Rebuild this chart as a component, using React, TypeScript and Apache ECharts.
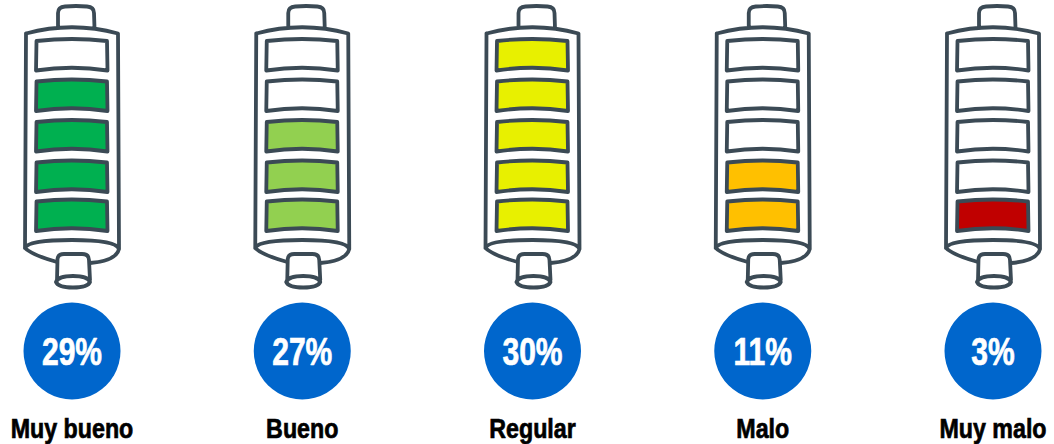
import React, { useEffect, useRef } from "react";
import * as echarts from "echarts";

const categories = ["Muy bueno", "Bueno", "Regular", "Malo", "Muy malo"];
const percentages = [29, 27, 30, 11, 3];
const filledCells = [4, 3, 5, 2, 1];
const seriesColors = ["#00B050", "#92D050", "#E8F000", "#FFC000", "#C00000"];

const INK = "#3B4A55";
const BLUE = "#0066CC";
const FONT = "'Liberation Sans', sans-serif";
const ANCHOR_Y = 351;
const cellTops = [40, 80.5, 121, 161.5, 200.5];

echarts.graphic.registerShape(
  "batteryCase",
  echarts.graphic.extendShape({
    shape: { x: 0, y: 0 },
    buildPath(ctx: any, s: any) {
      const X = (v: number) => s.x + v;
      const Y = (v: number) => s.y + v - ANCHOR_Y;
      // cap
      ctx.moveTo(X(-14), Y(27));
      ctx.lineTo(X(-14), Y(13));
      ctx.quadraticCurveTo(X(-14), Y(7), X(-7), Y(6.5));
      ctx.quadraticCurveTo(X(4), Y(5.5), X(15), Y(6.5));
      ctx.quadraticCurveTo(X(22), Y(7), X(22), Y(13));
      ctx.lineTo(X(22.5), Y(28));
      // body
      ctx.moveTo(X(-46), Y(33.5));
      ctx.quadraticCurveTo(X(0), Y(21), X(46), Y(33.5));
      ctx.lineTo(X(47), Y(249));
      ctx.moveTo(X(-46), Y(33.5));
      ctx.lineTo(X(-47), Y(248));
      // bottom ellipse
      ctx.moveTo(X(-47), Y(248));
      ctx.quadraticCurveTo(X(-44), Y(240), X(0), Y(240));
      ctx.quadraticCurveTo(X(44), Y(240), X(47), Y(249));
      ctx.quadraticCurveTo(X(44), Y(261), X(18), Y(263));
      ctx.moveTo(X(-47), Y(248));
      ctx.quadraticCurveTo(X(-40), Y(255), X(-15), Y(262));
    },
  })
);

echarts.graphic.registerShape(
  "batteryNozzle",
  echarts.graphic.extendShape({
    shape: { x: 0, y: 0 },
    buildPath(ctx: any, s: any) {
      const X = (v: number) => s.x + v;
      const Y = (v: number) => s.y + v - ANCHOR_Y;
      ctx.moveTo(X(-15), Y(280));
      ctx.lineTo(X(-14.5), Y(259));
      ctx.quadraticCurveTo(X(-14), Y(254), X(-8), Y(254));
      ctx.lineTo(X(10), Y(254));
      ctx.quadraticCurveTo(X(17), Y(254), X(17), Y(260));
      ctx.lineTo(X(18), Y(280));
      ctx.moveTo(X(-16), Y(282));
      ctx.quadraticCurveTo(X(-14), Y(276), X(1), Y(276));
      ctx.quadraticCurveTo(X(16), Y(276), X(18), Y(282));
      ctx.quadraticCurveTo(X(16), Y(287.5), X(1), Y(287.5));
      ctx.quadraticCurveTo(X(-14), Y(287.5), X(-16), Y(282));
    },
  })
);

echarts.graphic.registerShape(
  "batteryCell",
  echarts.graphic.extendShape({
    shape: { x: 0, y: 0, top: 0 },
    buildPath(ctx: any, s: any) {
      const X = (v: number) => s.x + v;
      const Y = (v: number) => s.y + v - ANCHOR_Y;
      const t = s.top;
      ctx.moveTo(X(-35.5), Y(t + 1));
      ctx.quadraticCurveTo(X(0), Y(t - 3), X(35), Y(t + 1));
      ctx.lineTo(X(35.5), Y(t + 30.5));
      ctx.quadraticCurveTo(X(0), Y(t + 25), X(-36), Y(t + 30.5));
      ctx.closePath();
    },
  })
);

export default function App() {
  const ref = useRef<HTMLDivElement>(null);
  useEffect(() => {
    document.body.style.margin = "0";
    const chart = echarts.init(ref.current!, undefined, { renderer: "svg" });
    const narrowText = (
      x: number,
      y: number,
      text: string,
      fill: string,
      fontSize: number,
      scaleX: number
    ) => ({
      type: "text",
      x,
      y,
      scaleX,
      style: {
        text,
        x: 0,
        y: 0,
        fill,
        stroke: fill,
        lineWidth: 0.7,
        fontFamily: FONT,
        fontWeight: "bold",
        fontSize,
        align: "center",
        verticalAlign: "middle",
      },
    });
    chart.setOption({
      animation: false,
      backgroundColor: "#FFFFFF",
      grid: {
        left: 72,
        right: 61,
        top: 0,
        bottom: 444 - ANCHOR_Y,
        outerBoundsMode: "none",
      },
      xAxis: {
        type: "category",
        data: categories,
        boundaryGap: false,
        axisLine: { show: false },
        axisTick: { show: false },
        splitLine: { show: false },
        axisLabel: { show: false },
      },
      yAxis: { type: "value", min: 0, max: 1, show: false },
      series: [
        {
          type: "custom",
          clip: false,
          silent: true,
          data: filledCells.map((n, i) => [i, 0, n, percentages[i]]),
          renderItem(params: any, api: any) {
            const i = api.value(0);
            const filled = api.value(2);
            const [x, y] = api.coord([i, 0]);
            const ink = { stroke: INK, lineWidth: 3.8, lineCap: "round", lineJoin: "round" };
            const children: any[] = [
              { type: "batteryCase", shape: { x, y }, style: { ...ink, fill: "none" } },
              { type: "batteryNozzle", shape: { x, y }, style: { ...ink, fill: "#FFFFFF" } },
            ];
            cellTops.forEach((top, k) => {
              const isOn = k >= cellTops.length - filled;
              children.push({
                type: "batteryCell",
                shape: { x, y, top },
                style: { ...ink, fill: isOn ? seriesColors[i] : "#FFFFFF" },
              });
            });
            children.push({
              type: "circle",
              shape: { cx: x, cy: y, r: 48.5 },
              style: { fill: BLUE },
            });
            children.push(narrowText(x, y + 0.5, `${api.value(3)}%`, "#FFFFFF", 38, 0.79));
            children.push(narrowText(x, y + 77, categories[i], "#000000", 28, 0.83));
            return { type: "group", children };
          },
        },
      ],
    });
    return () => chart.dispose();
  }, []);
  return (
    <div
      ref={ref}
      style={{ position: "absolute", left: 0, top: 0, width: 1054, height: 444 }}
    />
  );
}
